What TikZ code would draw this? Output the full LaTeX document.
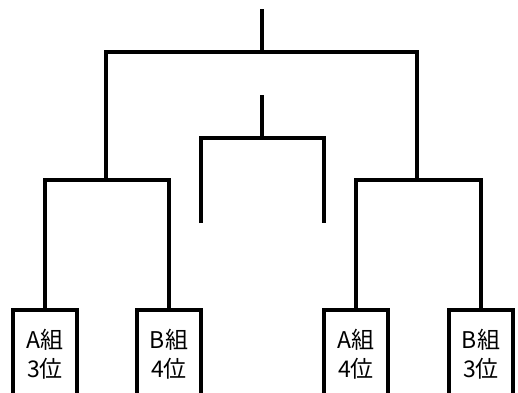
\documentclass[tikz,border=0pt]{standalone}
\usepackage{fontspec}
\newfontfamily\cjk{Noto Sans CJK JP}
\begin{document}
\begin{tikzpicture}[x=1pt,y=-1pt,
  wire/.style={line width=4pt, line join=miter},
  team/.style={minimum width=63pt, minimum height=88pt, inner sep=0pt, align=center,
    font=\cjk\fontsize{23}{29}\selectfont}]
\useasboundingbox (0,0) rectangle (518,392);
% teams
\node[team] (t1) at (45,354) {A組\\3位};
\node[team] (t2) at (169,354) {B組\\4位};
\node[team] (t3) at (356,354) {A組\\4位};
\node[team] (t4) at (481,354) {B組\\3位};
\foreach \t in {t1,t2,t3,t4}
  \draw[wire] (\t.south west) -- (\t.north west) -- (\t.north east) -- (\t.south east);
% joints
\coordinate (jl) at (106,180);
\coordinate (jr) at (417,180);
\coordinate (top) at (262,52);
\coordinate (topend) at (262,9);
\coordinate (mid) at (262,138);
\coordinate (midend) at (262,95);
\coordinate (ml) at (201,223);
\coordinate (mr) at (324,223);
% left pair
\draw[wire] (t1.north) |- (jl) -| (t2.north);
% right pair
\draw[wire] (t3.north) |- (jr) -| (t4.north);
% final
\draw[wire] (jl) |- (top) -| (jr);
\draw[wire] (top) -- (topend);
% middle (3rd place)
\draw[wire] (ml) |- (mid) -| (mr);
\draw[wire] (mid) -- (midend);
\end{tikzpicture}
\end{document}
